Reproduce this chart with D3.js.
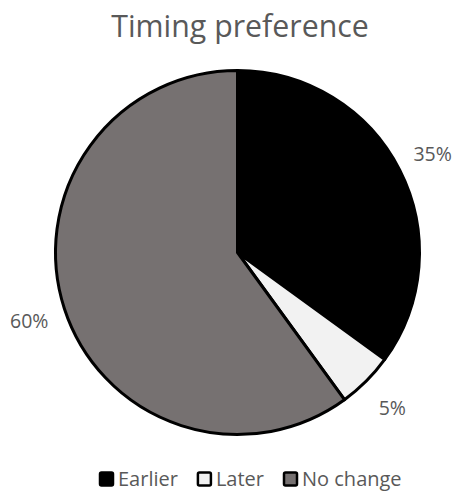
<!DOCTYPE html>
<html>
<head>
<meta charset="utf-8">
<script src="https://cdn.jsdelivr.net/npm/d3@7"></script>
<style>
  html, body { margin: 0; padding: 0; background: #fff; }
  svg { display: block; }
  text { font-family: "Open Sans", "Noto Sans", sans-serif; }
</style>
</head>
<body>
<script>
const categories = ["Earlier", "Later", "No change"];
const values = [35, 5, 60];
const labels = ["35%", "5%", "60%"];
const colors = ["#000000", "#f2f2f2", "#767171"];
const title = "Timing preference";

const W = 456, H = 493;
const cx = 237.5, cy = 252.5, R = 182, labelR = 219;

const svg = d3.select("body").append("svg").attr("width", W).attr("height", H);

svg.append("text")
  .attr("x", 240).attr("y", 37)
  .attr("text-anchor", "middle")
  .attr("font-size", 30.3)
  .attr("fill", "#595959")
  .text(title);

const data = categories.map((c, i) => ({ cat: c, value: values[i], label: labels[i], color: colors[i] }));
const pie = d3.pie().value(d => d.value).sort(null);
const arcs = pie(data);
const arc = d3.arc().innerRadius(0).outerRadius(R);
const labelArc = d3.arc().innerRadius(labelR).outerRadius(labelR);

const g = svg.append("g").attr("transform", `translate(${cx},${cy})`);
g.selectAll("path.slice").data(arcs).join("path")
  .attr("class", "slice")
  .attr("d", arc)
  .attr("fill", d => d.data.color)
  .attr("stroke", "#000")
  .attr("stroke-width", 3)
  .attr("stroke-linejoin", "round");

g.selectAll("text.lbl").data(arcs).join("text")
  .attr("class", "lbl")
  .attr("transform", d => `translate(${labelArc.centroid(d)})`)
  .attr("text-anchor", "middle")
  .attr("dominant-baseline", "central")
  .attr("font-size", 19.5)
  .attr("fill", "#595959")
  .text(d => d.data.label);

// legend
const leg = svg.append("g");
let x = 99;
const box = 15, gapText = 4, gapItem = 19, baseY = 486;
data.forEach(d => {
  const it = leg.append("g");
  it.append("rect")
    .attr("x", x + 1).attr("y", baseY - 13.5)
    .attr("width", box - 2).attr("height", box - 2)
    .attr("rx", 1.5)
    .attr("fill", d.color)
    .attr("stroke", "#000").attr("stroke-width", 2.5);
  const t = it.append("text")
    .attr("x", x + box + gapText).attr("y", baseY)
    .attr("font-size", 20)
    .attr("fill", "#595959")
    .text(d.cat);
  const w = t.node().getComputedTextLength();
  x += box + gapText + w + gapItem;
});
</script>
</body>
</html>
